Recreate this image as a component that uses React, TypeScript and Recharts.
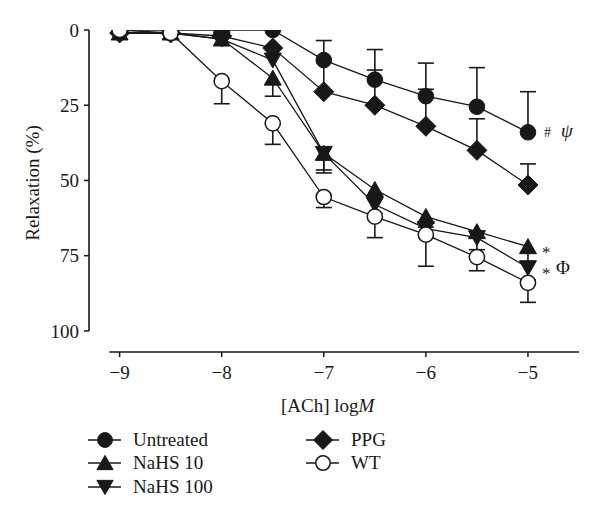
import React from 'react';
import {
  ComposedChart,
  Line,
  XAxis,
  YAxis,
  ErrorBar,
  Scatter,
  ReferenceLine,
  Legend,
  LabelList,
  Label,
} from 'recharts';

// ---- data ----
const concentrations = [-9, -8.5, -8, -7.5, -7, -6.5, -6, -5.5, -5];
const xTicks = [-9, -8, -7, -6, -5];
const yTicks = [0, 25, 50, 75, 100];

const seriesNames = ['Untreated', 'PPG', 'NaHS 10', 'NaHS 100', 'WT'];

const untreated = [0, 0, 0, 0, 10, 16.5, 22, 25.5, 34];
const untreatedErr = [0, 0, 0, 0, 6.5, 10, 11, 13, 13.5]; // toward 0
const ppg = [1, 1, 2, 6, 20.5, 25, 32, 40, 51.5];
const ppgErr = [0, 0, 0, 0, 10, 11.7, 12.3, 10.5, 7]; // toward 0
const nahs10 = [1, 1, 3, 16, 41, 53, 62, 67, 72];
const nahs10Err = [0, 0, 0, 6, 6.5, 3, 3.5, 2, 5]; // toward 100
const nahs100 = [1, 1, 3, 10, 41, 58, 66, 69, 79];
const nahs100Err = [0, 0, 0, 0, 5.5, 3, 2, 4, 4]; // toward 100
const wt = [0, 1, 17, 31, 55.5, 62, 68, 75.5, 84];
const wtErr = [0, 0, 7.5, 7, 3.5, 7, 10.5, 4.5, 6.5]; // toward 100

const annotations: Record<string, string[]> = {
  untreated: ['#', 'ψ'],
  nahs10: ['*'],
  nahs100: ['*', 'Φ'],
};

// ---- build table for the library ----
type Spec = { key: string; name: string; values: number[]; err: number[]; up: boolean; shape: string };
const specs: Spec[] = [
  { key: 'untreated', name: seriesNames[0], values: untreated, err: untreatedErr, up: true, shape: 'circle' },
  { key: 'ppg', name: seriesNames[1], values: ppg, err: ppgErr, up: true, shape: 'diamond' },
  { key: 'nahs10', name: seriesNames[2], values: nahs10, err: nahs10Err, up: false, shape: 'up' },
  { key: 'nahs100', name: seriesNames[3], values: nahs100, err: nahs100Err, up: false, shape: 'down' },
  { key: 'wt', name: seriesNames[4], values: wt, err: wtErr, up: false, shape: 'open' },
];

const chartData = concentrations.map((x, i) => {
  const row: any = { x };
  specs.forEach((s) => {
    row[s.key] = s.values[i];
    row[s.key + 'E'] = s.err[i] ? (s.up ? [s.err[i], 0] : [0, s.err[i]]) : null;
  });
  return row;
});

const capData: { x: number; capY: number }[] = [];
specs.forEach((s) => {
  concentrations.forEach((x, i) => {
    if (s.err[i]) capData.push({ x, capY: s.up ? s.values[i] - s.err[i] : s.values[i] + s.err[i] });
  });
});

// ---- styles ----
const INK = '#1a1718';
const FONT = "'Liberation Serif', 'Times New Roman', serif";
const FS = 19;

function Marker({ shape, cx, cy, k = 1 }: { shape: string; cx: number; cy: number; k?: number }) {
  if (cx == null || cy == null) return null;
  switch (shape) {
    case 'circle':
      return <circle cx={cx} cy={cy} r={7.8 * k} fill={INK} stroke={INK} strokeWidth={1} />;
    case 'open':
      return <circle cx={cx} cy={cy} r={7.6 * k} fill="#fff" stroke={INK} strokeWidth={1.5} />;
    case 'up':
      return (
        <path
          d={`M${cx},${cy - 8 * k} L${cx + 8.5 * k},${cy + 7 * k} L${cx - 8.5 * k},${cy + 7 * k} Z`}
          fill={INK}
          stroke={INK}
          strokeWidth={1}
        />
      );
    case 'down':
      return (
        <path
          d={`M${cx},${cy + 8 * k} L${cx + 8.5 * k},${cy - 7 * k} L${cx - 8.5 * k},${cy - 7 * k} Z`}
          fill={INK}
          stroke={INK}
          strokeWidth={1}
        />
      );
    case 'diamond':
      return (
        <path
          d={`M${cx},${cy - 10 * k} L${cx + 10 * k},${cy} L${cx},${cy + 10 * k} L${cx - 10 * k},${cy} Z`}
          fill={INK}
          stroke={INK}
          strokeWidth={1}
        />
      );
    default:
      return null;
  }
}

const CapShape = (p: any) => (
  <line x1={p.cx - 8} x2={p.cx + 8} y1={p.cy} y2={p.cy} stroke={INK} strokeWidth={1.6} />
);

const makeAnnotation = (key: string) => (p: any) => {
  const parts = annotations[key];
  if (!parts || p.index !== concentrations.length - 1) return null;
  const x = Number(p.x);
  const y = Number(p.y);
  if (key === 'untreated') {
    return (
      <g>
        <text x={x + 16} y={y + 5} fontFamily={FONT} fontSize={14} fill={INK}>{parts[0]}</text>
        <text x={x + 33} y={y + 5} fontFamily={FONT} fontSize={19} fontStyle="italic" fill={INK}>{parts[1]}</text>
      </g>
    );
  }
  return (
    <g>
      <text x={x + 14} y={y + 11} fontFamily={FONT} fontSize={17} fill={INK}>{parts[0]}</text>
      {parts[1] ? (
        <text x={x + 28} y={y + 6} fontFamily={FONT} fontSize={19} fill={INK}>{parts[1]}</text>
      ) : null}
    </g>
  );
};

const legendPos: Record<string, { cx: number; cy: number }> = {
  untreated: { cx: 105, cy: 12 },
  nahs10: { cx: 105, cy: 35 },
  nahs100: { cx: 105, cy: 59 },
  ppg: { cx: 323, cy: 12 },
  wt: { cx: 323, cy: 35 },
};

const LegendContent = (props: any) => {
  const payload = (props.payload || []).filter((e: any) => legendPos[e.dataKey]);
  return (
    <svg width={600} height={72} style={{ display: 'block' }}>
      {payload.map((e: any) => {
        const pos = legendPos[e.dataKey];
        const spec = specs.find((s) => s.key === e.dataKey)!;
        return (
          <g key={e.dataKey}>
            <line x1={pos.cx - 17} x2={pos.cx + 16} y1={pos.cy} y2={pos.cy} stroke={INK} strokeWidth={1.4} />
            <Marker shape={spec.shape} cx={pos.cx} cy={pos.cy} k={0.95} />
            <text x={pos.cx + 28} y={pos.cy + 6} fontFamily={FONT} fontSize={FS} fill={INK}>
              {e.value}
            </text>
          </g>
        );
      })}
    </svg>
  );
};

const XTitle = () => (
  <text x={281} y={412} fontFamily={FONT} fontSize={FS} fill={INK}>
    [ACh] log<tspan fontStyle="italic">M</tspan>
  </text>
);

const YTitle = () => (
  <text
    x={32}
    y={183}
    transform="rotate(-90 32 183)"
    textAnchor="middle"
    dominantBaseline="central"
    fontFamily={FONT}
    fontSize={FS}
    fill={INK}
  >
    Relaxation (%)
  </text>
);

const fmtMinus = (v: any) => String(v).replace('-', '\u2212');

export default function App() {
  return (
    <div style={{ position: 'absolute', left: 0, top: 0, width: 600, height: 521, background: '#fff' }}>
      <ComposedChart
        width={600}
        height={521}
        data={chartData}
        margin={{ top: 30, right: 21, left: 29, bottom: 67 }}
      >
        <XAxis
          dataKey="x"
          type="number"
          domain={[-9.3, -4.5]}
          allowDataOverflow
          ticks={xTicks}
          tickFormatter={fmtMinus}
          axisLine={false}
          tickLine={{ stroke: INK, strokeWidth: 1.5 }}
          tickSize={5}
          tickMargin={9}
          height={30}
          tick={{ fill: INK, fontFamily: FONT, fontSize: FS }}
        >
          <Label content={XTitle} />
        </XAxis>
        <YAxis
          type="number"
          reversed
          domain={[0, 107]}
          allowDataOverflow
          ticks={yTicks}
          axisLine={false}
          tickLine={{ stroke: INK, strokeWidth: 1.5 }}
          tickSize={5}
          tickMargin={5}
          width={60}
          tick={{ fill: INK, fontFamily: FONT, fontSize: FS }}
        >
          <Label content={YTitle} />
        </YAxis>
        <ReferenceLine
          segment={[{ x: -9.3, y: 0 }, { x: -9.3, y: 100 }]}
          stroke={INK}
          strokeWidth={1.6}
          ifOverflow="visible"
        />
        <ReferenceLine
          segment={[{ x: -9.1, y: 107 }, { x: -4.5, y: 107 }]}
          stroke={INK}
          strokeWidth={1.6}
          ifOverflow="visible"
        />
        <Legend
          verticalAlign="bottom"
          content={LegendContent}
          wrapperStyle={{ position: 'absolute', left: 0, top: 428, width: 600, height: 72 }}
        />
        {specs.map((s) => (
          <Line
            key={s.key}
            dataKey={s.key}
            name={s.name}
            type="linear"
            stroke={INK}
            strokeWidth={1.3}
            isAnimationActive={false}
            dot={(p: any) => <Marker key={`${s.key}-${p.index}`} shape={s.shape} cx={p.cx} cy={p.cy} />}
            activeDot={false}
          >
            <ErrorBar dataKey={s.key + 'E'} direction="y" width={0} stroke={INK} strokeWidth={1.6} />
            <LabelList dataKey={s.key} content={makeAnnotation(s.key)} />
          </Line>
        ))}
        <Scatter
          data={capData}
          dataKey="capY"
          shape={CapShape}
          isAnimationActive={false}
          legendType="none"
        />
      </ComposedChart>
    </div>
  );
}
